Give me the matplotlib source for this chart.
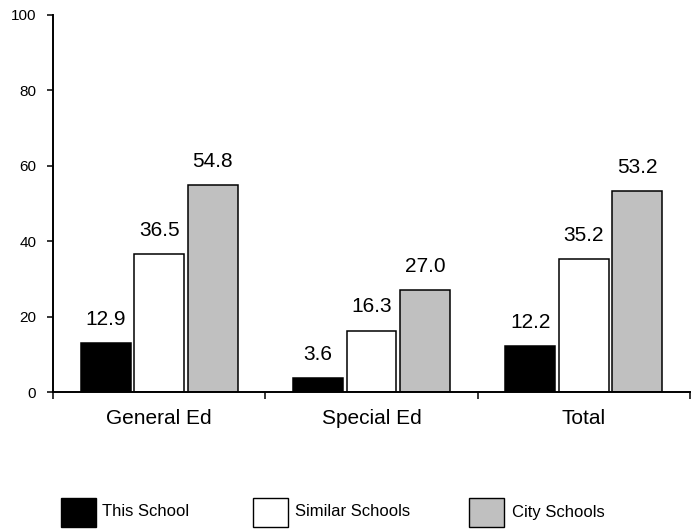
import matplotlib
matplotlib.use("Agg")
import matplotlib.pyplot as plt
from matplotlib.patches import Rectangle
import numpy as np

plt.rcParams['font.family'] = ['Liberation Sans', 'DejaVu Sans']

categories = ["General Ed", "Special Ed", "Total"]
series_names = ["This School", "Similar Schools", "City Schools"]
this_school = [12.9, 3.6, 12.2]
similar_schools = [36.5, 16.3, 35.2]
city_schools = [54.8, 27.0, 53.2]
colors = ["#000000", "#ffffff", "#c0c0c0"]
yticks = [0, 20, 40, 60, 80, 100]

W, H = 697, 529
fig = plt.figure(figsize=(W / 100, H / 100), dpi=100)
ax = fig.add_axes([53 / W, (H - 392) / H, (690 - 53) / W, (392 - 15) / H])

x = np.arange(len(categories))
step = 0.252
width = 0.235
all_series = [this_school, similar_schools, city_schools]
for i, (vals, col) in enumerate(zip(all_series, colors)):
    pos = x + (i - 1) * step
    bars = ax.bar(pos, vals, width=width, color=col, edgecolor="black", linewidth=1.1, zorder=2)
    for b, v in zip(bars, vals):
        ax.annotate(f"{v:.1f}", (b.get_x() + b.get_width() / 2, v),
                    xytext=(0, 13), textcoords="offset points",
                    ha="center", va="baseline", fontsize=15)

ax.set_xlim(-0.5, 2.5)
ax.set_ylim(0, 100)
ax.set_yticks(yticks)
ax.set_yticklabels([str(t) for t in yticks], fontsize=11)
ax.tick_params(axis="y", direction="out", length=4, width=1.1, pad=8)

ax.set_xticks([-0.5, 0.5, 1.5, 2.5])
ax.set_xticklabels([])
ax.tick_params(axis="x", direction="out", length=5, width=1.1)
for xi, c in zip(x, categories):
    ax.text(xi, -4.5, c, ha="center", va="top", fontsize=15,
            transform=ax.transData)

for s in ["top", "right"]:
    ax.spines[s].set_visible(False)
for s in ["left", "bottom"]:
    ax.spines[s].set_linewidth(1.4)

# legend
box_x = [61, 253, 469]
txt_x = [102, 295, 512]
for bx, tx, name, col in zip(box_x, txt_x, series_names, colors):
    fig.add_artist(Rectangle((bx / W, (H - 527) / H), 35 / W, 29 / H,
                             transform=fig.transFigure, facecolor=col,
                             edgecolor="black", linewidth=1.0))
    fig.text(tx / W, (H - 512) / H, name, ha="left", va="center", fontsize=12)

fig.savefig("out.png", dpi=100)
